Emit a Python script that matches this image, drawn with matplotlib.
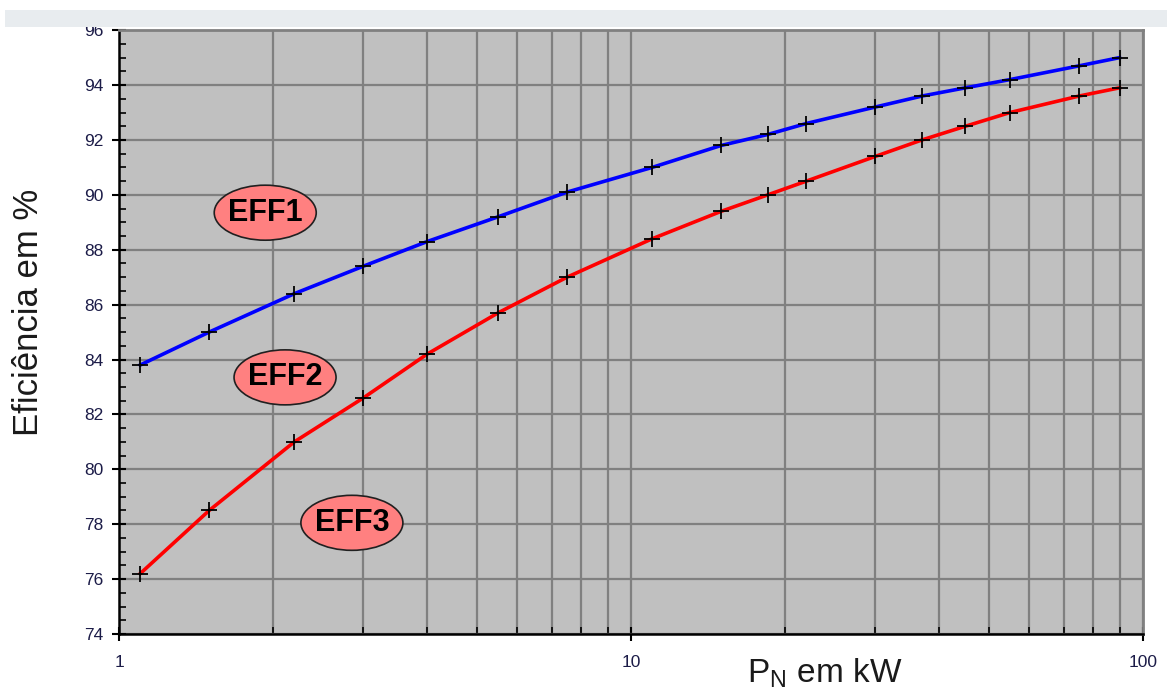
import numpy as np
import matplotlib
matplotlib.use("Agg")
import matplotlib.pyplot as plt
from matplotlib.patches import Ellipse, Rectangle
from matplotlib.transforms import ScaledTranslation
from matplotlib.ticker import LogLocator, FixedLocator, NullFormatter

plt.rcParams['font.family'] = ['Liberation Sans', 'DejaVu Sans']

# rated power of the motors (kW)
power_kw = [1.1, 1.5, 2.2, 3, 4, 5.5, 7.5, 11, 15, 18.5, 22, 30, 37, 45, 55, 75, 90]
# efficiency limits (%)
eff1_limit = [83.8, 85.0, 86.4, 87.4, 88.3, 89.2, 90.1, 91.0, 91.8, 92.2,
              92.6, 93.2, 93.6, 93.9, 94.2, 94.7, 95.0]
eff2_limit = [76.2, 78.5, 81.0, 82.6, 84.2, 85.7, 87.0, 88.4, 89.4, 90.0,
              90.5, 91.4, 92.0, 92.5, 93.0, 93.6, 93.9]

# class labels and where they sit (kW, %)
class_names = ["EFF1", "EFF2", "EFF3"]
class_x = [1.93, 2.11, 2.85]
class_y = [89.35, 83.35, 78.05]

fig = plt.figure(figsize=(11.67, 6.94), dpi=100)
ax = fig.add_axes([0.102, 0.0865, 0.8774, 0.870])
ax.set_facecolor('#c0c0c0')

ax.plot(power_kw, eff1_limit, color='#0000ff', lw=2.6, zorder=3)
ax.plot(power_kw, eff2_limit, color='#ff0000', lw=2.6, zorder=3)
ax.plot(power_kw, eff1_limit, ls='none', marker='+', ms=11, mew=1.3, color='black', zorder=4)
ax.plot(power_kw, eff2_limit, ls='none', marker='+', ms=11, mew=1.3, color='black', zorder=4)

ax.set_xscale('log')
ax.set_xlim(1, 100)
ax.set_ylim(74, 96)
ax.xaxis.set_major_locator(FixedLocator([1, 10, 100]))
ax.xaxis.set_minor_locator(LogLocator(base=10, subs=np.arange(2, 10)))
ax.xaxis.set_minor_formatter(NullFormatter())
ax.set_xticklabels(['1', '10', '100'])
ax.yaxis.set_major_locator(FixedLocator(np.arange(74, 97, 2)))
ax.yaxis.set_minor_locator(FixedLocator(np.arange(74, 96.01, 0.5)))

ax.grid(True, which='both', axis='x', color='#808080', lw=1.6, zorder=1)
ax.grid(True, which='major', axis='y', color='#808080', lw=1.6, zorder=1)
ax.set_axisbelow(True)

ax.tick_params(which='major', direction='inout', length=10, width=1.5, labelsize=12.5,
               labelcolor='#1c1c48', color='black')
ax.tick_params(which='minor', direction='in', length=5, width=1.2, color='black')
ax.tick_params(axis='x', which='major', pad=10)
ax.tick_params(axis='y', which='major', pad=6)

for s in ['left', 'bottom']:
    ax.spines[s].set_color('black')
    ax.spines[s].set_linewidth(1.8)
for s in ['top', 'right']:
    ax.spines[s].set_color('#808080')
    ax.spines[s].set_linewidth(2)

# efficiency class labels
for name, cx, cy in zip(class_names, class_x, class_y):
    tr = ScaledTranslation(cx, cy, ax.transData)
    ax.add_patch(Ellipse((0, 0), 102, 55, transform=tr, fc='#ff8080',
                         ec='#202020', lw=1.2, zorder=5, clip_on=False))
    ax.text(cx, cy, name, fontsize=22, fontweight='bold', color='black',
            ha='center', va='center', zorder=6)

fig.text(0.024, 0.55, "Eficiência em %", rotation=90, fontsize=25,
         ha='center', va='center', color='#1a1a1a')
fig.text(0.707, 0.03, "P$_\\mathregular{N}$ em kW", fontsize=24,
         ha='center', va='center', color='#1a1a1a')

# light band across the top
fig.patches.append(Rectangle((0.004, 0.961), 0.996, 0.0245, transform=fig.transFigure,
                             fc='#e8ecef', ec='none', zorder=10))

fig.savefig('out.png', dpi=100)
